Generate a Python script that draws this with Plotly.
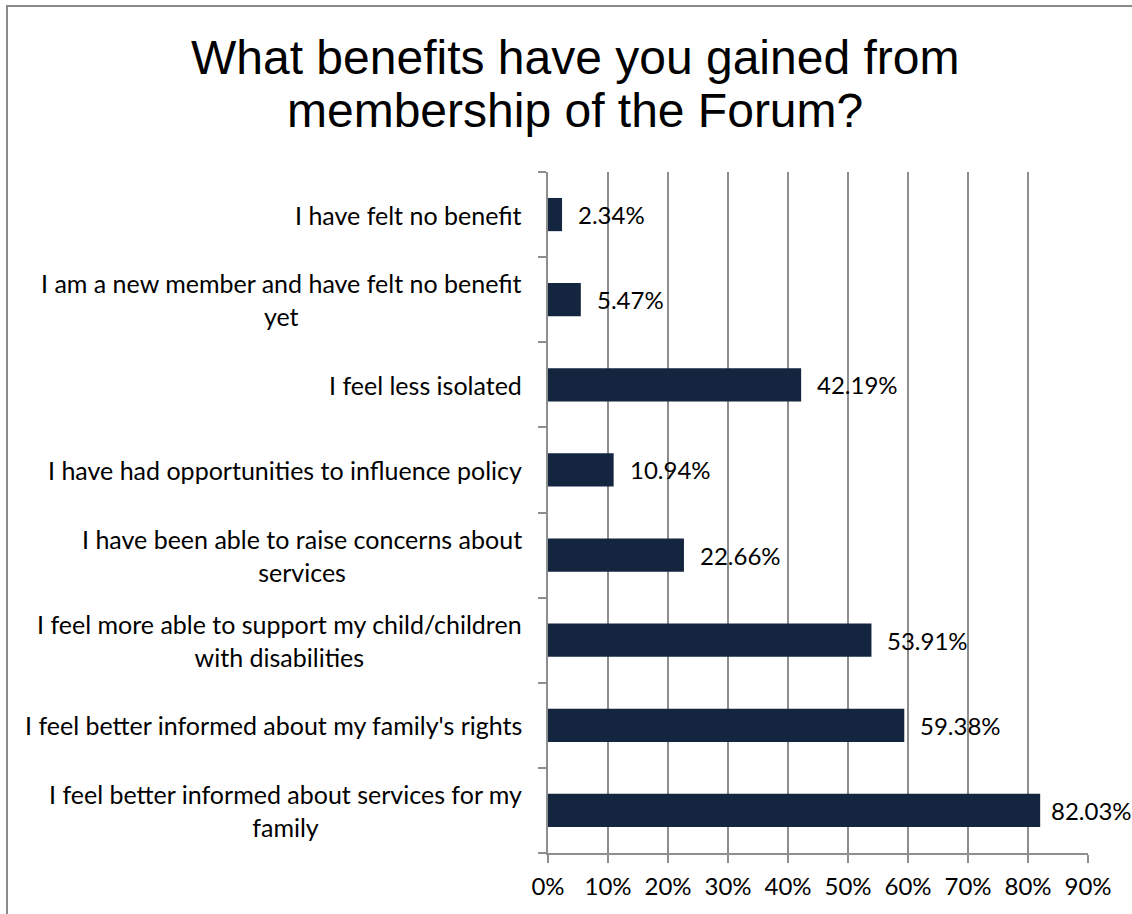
import plotly.graph_objects as go

# Survey answers, bottom-to-top order as drawn on the category axis
categories = [
    "I feel better informed about services for my<br>family",
    "I feel better informed about my family's rights",
    "I feel more able to support my child/children<br>with disabilities",
    "I have been able to raise concerns about<br>services",
    "I have had opportunities to influence policy",
    "I feel less isolated",
    "I am a new member and have felt no benefit<br>yet",
    "I have felt no benefit",
]
percentages = [82.03, 59.38, 53.91, 22.66, 10.94, 42.19, 5.47, 2.34]
x_tick_values = [0, 10, 20, 30, 40, 50, 60, 70, 80, 90]
x_tick_labels = ["0%", "10%", "20%", "30%", "40%", "50%", "60%", "70%", "80%", "90%"]
title_lines = ["What benefits have you gained from", "membership of the Forum?"]

BAR_COLOR = "#14253F"
GRID_COLOR = "#8E8E8E"
LABEL_FONT = "Lato, 'Open Sans', sans-serif"
TITLE_FONT = "Liberation Sans, Arial, sans-serif"

W, H = 1132, 914
M_L, M_R, M_T, M_B = 548, 44, 172, 61
PLOT_W = W - M_L - M_R
PLOT_H = H - M_T - M_B
X_MAX = 90

fig = go.Figure(
    go.Bar(
        x=percentages,
        y=categories,
        orientation="h",
        marker=dict(color=BAR_COLOR, line=dict(width=0)),
        width=0.39,
        hoverinfo="x+y",
    )
)

annotations = []
# Chart title, one annotation per line for tighter line spacing
for i, line in enumerate(title_lines):
    annotations.append(dict(
        x=(575 - M_L) / PLOT_W, xref="paper",
        y=1 + (M_T - (57 + 54 * i)) / PLOT_H, yref="paper",
        text=line, showarrow=False,
        xanchor="center", yanchor="middle",
        font=dict(family=TITLE_FONT, size=48, color="#000000"),
    ))
# Category names, centred line-by-line and right-aligned to the axis
for cat in categories:
    annotations.append(dict(
        x=0, xref="paper", y=cat, yref="y",
        text=cat, showarrow=False,
        xanchor="right", yanchor="middle", align="center",
        xshift=-24,
        font=dict(family=LABEL_FONT, size=25, color="#000000"),
    ))
# Value labels just beyond the end of each bar, nudged left if they
# would run past the right edge of the page
LABEL_W = 81
for cat, val in zip(categories, percentages):
    bar_end_px = M_L + val / X_MAX * PLOT_W
    shift = min(14, (W - 2) - LABEL_W - bar_end_px)
    annotations.append(dict(
        x=val, xref="x", y=cat, yref="y",
        text=f"{val:.2f}%", showarrow=False,
        xanchor="left", yanchor="middle",
        xshift=shift,
        font=dict(family=LABEL_FONT, size=24, color="#000000"),
    ))

fig.update_layout(
    width=W,
    height=H,
    margin=dict(l=M_L, r=M_R, t=M_T, b=M_B),
    paper_bgcolor="white",
    plot_bgcolor="white",
    showlegend=False,
    xaxis=dict(
        range=[0, X_MAX],
        tickvals=x_tick_values,
        ticktext=x_tick_labels,
        showgrid=True,
        gridcolor=GRID_COLOR,
        gridwidth=2,
        zeroline=False,
        showline=True,
        linecolor=GRID_COLOR,
        linewidth=2,
        ticks="outside",
        ticklen=8,
        tickwidth=2,
        tickcolor=GRID_COLOR,
        ticklabelstandoff=3,
        tickfont=dict(family=LABEL_FONT, size=24, color="#000000"),
        fixedrange=True,
    ),
    yaxis=dict(
        categoryorder="array",
        categoryarray=categories,
        showticklabels=False,
        showgrid=False,
        zeroline=False,
        showline=True,
        linecolor=GRID_COLOR,
        linewidth=2,
        ticks="outside",
        tickson="boundaries",
        ticklen=8,
        tickwidth=2,
        tickcolor=GRID_COLOR,
        fixedrange=True,
    ),
    annotations=annotations,
    shapes=[
        # Outer chart border
        dict(type="rect", xref="paper", yref="paper",
             x0=-541 / PLOT_W, x1=1.2, y0=-0.2, y1=1 + 166 / PLOT_H,
             line=dict(color="#8A8A8A", width=2), fillcolor="rgba(0,0,0,0)",
             layer="below"),
    ],
)

fig.write_html("out.html")
